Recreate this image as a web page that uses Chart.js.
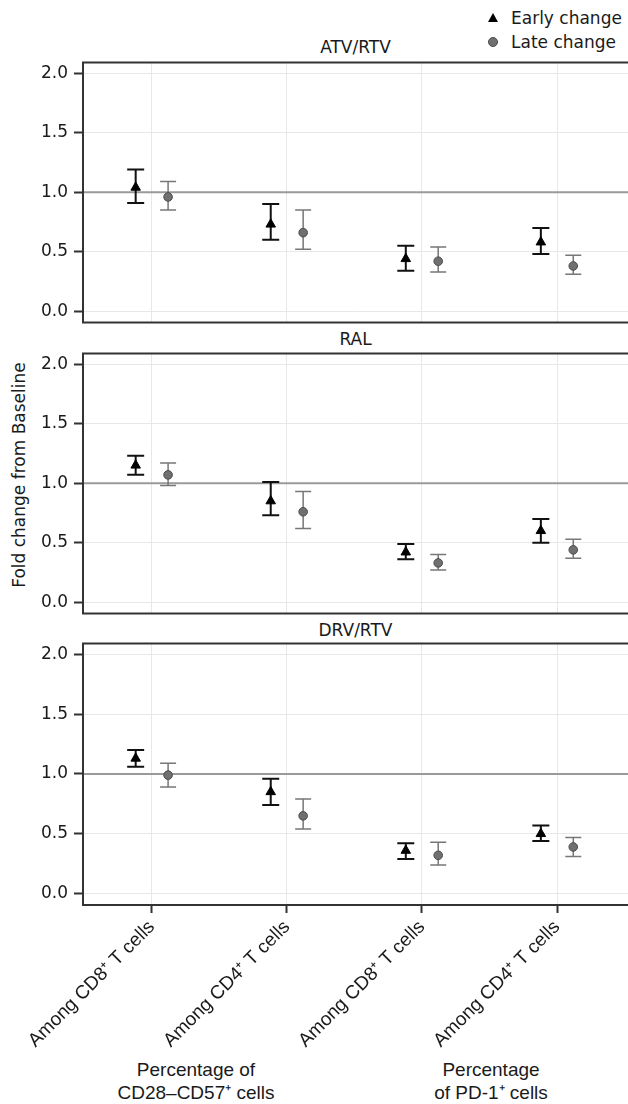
<!DOCTYPE html>
<html>
<head>
<meta charset="utf-8">
<script src="https://cdn.jsdelivr.net/npm/chart.js@4/dist/chart.umd.min.js"></script>
<style>
  html, body { margin: 0; padding: 0; width: 628px; height: 1104px; overflow: hidden; background: #fff; }
  .panel { position: absolute; left: 0; width: 640px; }
  .txt { position: absolute; color: #1a1a1a; font-family: "DejaVu Sans", sans-serif; font-size: 17px; white-space: nowrap; line-height: 1; }
  .title { left: 83px; width: 545px; text-align: center; }
  .grp { font-family: "Liberation Sans", Arial, sans-serif; font-size: 19px; text-align: center; width: 240px; line-height: 23px; }
  .tri { position: absolute; width: 0; height: 0; border-left: 5px solid transparent; border-right: 5px solid transparent; border-bottom: 9px solid #000; }
  .dot { position: absolute; width: 10px; height: 10px; border-radius: 50%; background: #707070; box-sizing: border-box; border: 1px solid #4a4a4a; }
</style>
</head>
<body>

<div class="tri" style="left:488px; top:13px;"></div>
<div class="txt" style="left:511px; top:10px;">Early change</div>
<div class="dot" style="left:488px; top:37px;"></div>
<div class="txt" style="left:511px; top:34px;">Late change</div>

<div class="txt title" style="top:39px;">ATV/RTV</div>
<div class="txt title" style="top:331px;">RAL</div>
<div class="txt title" style="top:622px;">DRV/RTV</div>

<div class="txt" style="left:19px; top:475px; transform: translate(-50%, -50%) rotate(-90deg);">Fold change from Baseline</div>

<div class="txt grp" style="left:76px; top:1058px;">Percentage of<br>CD28&#8211;CD57&#8314; cells</div>
<div class="txt grp" style="left:371px; top:1058px;">Percentage<br>of PD-1&#8314; cells</div>

<div class="panel" style="top:56px; height:273px;"><canvas id="cAtv"></canvas></div>
<div class="panel" style="top:347px; height:273px;"><canvas id="cRal"></canvas></div>
<div class="panel" style="top:637px; height:418px;"><canvas id="cDrv"></canvas></div>

<script>
const categories = ['Among CD8\u207A T cells', 'Among CD4\u207A T cells', 'Among CD8\u207A T cells', 'Among CD4\u207A T cells'];
const yTicks = [0, 0.5, 1, 1.5, 2];

// ATV/RTV
const atvEarly   = [1.04, 0.73, 0.44, 0.58];
const atvEarlyLo = [0.91, 0.60, 0.34, 0.48];
const atvEarlyHi = [1.19, 0.90, 0.55, 0.70];
const atvLate    = [0.96, 0.66, 0.42, 0.38];
const atvLateLo  = [0.85, 0.52, 0.33, 0.31];
const atvLateHi  = [1.09, 0.85, 0.54, 0.47];

// RAL
const ralEarly   = [1.15, 0.85, 0.42, 0.60];
const ralEarlyLo = [1.07, 0.73, 0.36, 0.50];
const ralEarlyHi = [1.23, 1.01, 0.49, 0.70];
const ralLate    = [1.07, 0.76, 0.33, 0.44];
const ralLateLo  = [0.98, 0.62, 0.27, 0.37];
const ralLateHi  = [1.17, 0.93, 0.40, 0.53];

// DRV/RTV
const drvEarly   = [1.13, 0.85, 0.36, 0.50];
const drvEarlyLo = [1.06, 0.74, 0.29, 0.44];
const drvEarlyHi = [1.20, 0.96, 0.42, 0.57];
const drvLate    = [0.99, 0.65, 0.32, 0.39];
const drvLateLo  = [0.89, 0.54, 0.24, 0.31];
const drvLateHi  = [1.09, 0.79, 0.43, 0.47];

const OFFSET = 0.12;

function points(mid, lo, hi, shift) {
  return mid.map((v, i) => ({ x: i + shift, y: v, lo: lo[i], hi: hi[i] }));
}

// no extra room for the end tick labels, the frame is placed by hand
function noPad(s) {
  s.paddingTop = 0; s.paddingBottom = 0; s.paddingLeft = 0; s.paddingRight = 0;
}

const errorBars = {
  id: 'errorBars',
  beforeDatasetsDraw(chart) {
    const { ctx, chartArea, scales: { x, y } } = chart;
    // reference line at 1.0
    ctx.save();
    ctx.strokeStyle = '#9a9a9a';
    ctx.lineWidth = 2;
    ctx.beginPath();
    ctx.moveTo(chartArea.left, y.getPixelForValue(1));
    ctx.lineTo(chartArea.right, y.getPixelForValue(1));
    ctx.stroke();

    chart.data.datasets.forEach(ds => {
      ctx.strokeStyle = ds.barColor;
      ctx.lineWidth = ds.barWidth;
      ds.data.forEach(p => {
        const px = x.getPixelForValue(p.x);
        const top = y.getPixelForValue(p.hi);
        const bot = y.getPixelForValue(p.lo);
        ctx.beginPath();
        ctx.moveTo(px, top); ctx.lineTo(px, bot);
        ctx.moveTo(px - ds.capHalf, top); ctx.lineTo(px + ds.capHalf, top);
        ctx.moveTo(px - ds.capHalf, bot); ctx.lineTo(px + ds.capHalf, bot);
        ctx.stroke();
      });
    });
    ctx.restore();
  },
  afterDraw(chart) {
    const { ctx, chartArea } = chart;
    ctx.save();
    ctx.strokeStyle = '#333';
    ctx.lineWidth = 2;
    ctx.strokeRect(chartArea.left, chartArea.top, chartArea.right - chartArea.left, chartArea.bottom - chartArea.top);
    ctx.restore();
  }
};

function makePanel(id, early, earlyLo, earlyHi, late, lateLo, lateHi, showX) {
  return new Chart(document.getElementById(id), {
    type: 'scatter',
    data: {
      datasets: [
        {
          label: 'Early change',
          data: points(early, earlyLo, earlyHi, -OFFSET),
          pointStyle: 'triangle', pointRadius: 5.5, pointBackgroundColor: '#000', pointBorderColor: '#000', pointBorderWidth: 1,
          barColor: '#111', barWidth: 2, capHalf: 8.5
        },
        {
          label: 'Late change',
          data: points(late, lateLo, lateHi, OFFSET),
          pointStyle: 'circle', pointRadius: 4.3, pointBackgroundColor: '#707070', pointBorderColor: '#4a4a4a', pointBorderWidth: 1,
          barColor: '#777', barWidth: 1.5, capHalf: 8
        }
      ]
    },
    options: {
      responsive: true,
      maintainAspectRatio: false,
      animation: false,
      layout: { padding: { top: 5, right: 0, left: 0, bottom: 0 } },
      plugins: { legend: { display: false }, tooltip: { enabled: false } },
      scales: {
        x: {
          type: 'linear', min: -0.51, max: 3.566,
          afterBuildTicks: s => { s.ticks = categories.map((c, i) => ({ value: i })); },
          afterFit: s => { s.height = showX ? 150 : 5; noPad(s); },
          border: { display: false },
          grid: { color: '#e8e8e8', lineWidth: 1, drawTicks: showX, tickLength: 8, tickColor: '#333', tickWidth: 2 },
          ticks: {
            display: showX, autoSkip: false, minRotation: 45, maxRotation: 45, padding: 3,
            color: '#1a1a1a', font: { family: 'Liberation Sans', size: 19 },
            callback: v => categories[v]
          }
        },
        y: {
          min: -0.095, max: 2.09,
          afterBuildTicks: s => { s.ticks = yTicks.map(v => ({ value: v })); },
          afterFit: s => { s.width = 83; noPad(s); },
          border: { display: false },
          grid: { color: '#e8e8e8', lineWidth: 1, tickLength: 9, tickColor: '#333', tickWidth: 2 },
          ticks: {
            padding: 6, color: '#1a1a1a', font: { family: 'DejaVu Sans', size: 17 },
            callback: v => v.toFixed(1)
          }
        }
      }
    },
    plugins: [errorBars]
  });
}

makePanel('cAtv', atvEarly, atvEarlyLo, atvEarlyHi, atvLate, atvLateLo, atvLateHi, false);
makePanel('cRal', ralEarly, ralEarlyLo, ralEarlyHi, ralLate, ralLateLo, ralLateHi, false);
makePanel('cDrv', drvEarly, drvEarlyLo, drvEarlyHi, drvLate, drvLateLo, drvLateHi, true);
</script>
</body>
</html>
